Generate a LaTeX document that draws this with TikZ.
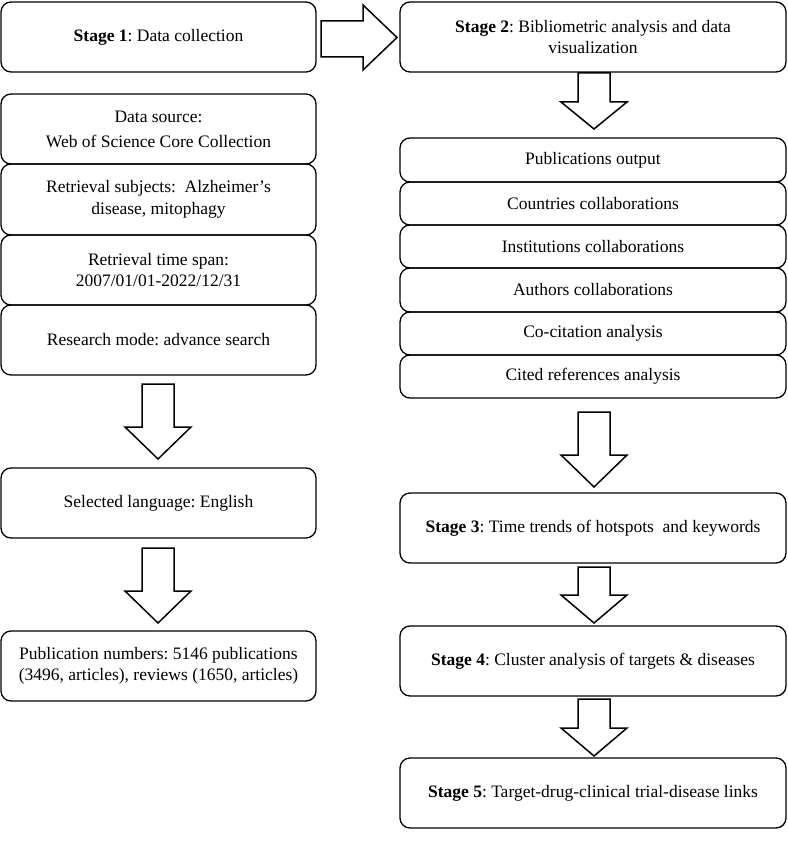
\documentclass[tikz,border=0pt]{standalone}
\usepackage{fontspec}
\setmainfont{Liberation Serif}
\frenchspacing
\tikzset{
  box/.style={draw, line width=1.3pt, rounded corners=10pt, align=center, inner sep=0pt,
    font=\fontsize{17.5}{21.5}\selectfont},
  lbox/.style={box, minimum width=315pt},
  rbox/.style={box, minimum width=386pt},
  blk/.style={draw, line width=1.5pt, fill=white, line join=miter}
}
\newcommand\blockdown[4]{% cx, top, headstart, tip
  \draw[blk] (#1-16,#2) -- (#1+16,#2) -- (#1+16,#3) -- (#1+33,#3) -- (#1,#4) -- (#1-33,#3) -- (#1-16,#3) -- cycle;}
\begin{document}
\begin{tikzpicture}[x=1pt,y=-1pt]
\useasboundingbox (0,0) rectangle (787,842);
% left column
\node[lbox, minimum height=70pt] (s1) at (158.5,37) {\textbf{Stage 1}: Data collection};
\node[lbox, minimum height=70pt] (ds) at (158.5,129) {Data source:\\[3.5pt]Web of Science Core Collection};
\node[lbox, minimum height=71pt] (rs) at (158.5,199.5) {Retrieval subjects:\ \ Alzheimer’s\\disease, mitophagy};
\node[lbox, minimum height=70pt] (rt) at (158.5,270) {Retrieval time span:\\2007/01/01-2022/12/31};
\node[lbox, minimum height=70pt] (rm) at (158.5,340) {Research mode: advance search};
\node[lbox, minimum height=70pt] (sl) at (158.5,503) {Selected language: English};
\node[lbox, minimum height=70pt] (pn) at (158.5,666) {Publication numbers: 5146 publications\\(3496, articles), reviews (1650, articles)};
% right column
\node[rbox, minimum height=70pt] (s2) at (593,37) {\textbf{Stage 2}: Bibliometric analysis and data\\visualization};
\node[rbox, minimum height=44pt] (po) at (593,160) {Publications output};
\node[rbox, minimum height=43pt] (cc) at (593,203.5) {Countries collaborations};
\node[rbox, minimum height=43pt] (ic) at (593,246.5) {Institutions collaborations};
\node[rbox, minimum height=44pt] (ac) at (593,290) {Authors collaborations};
\node[rbox, minimum height=43pt] (ca) at (593,333.5) {Co-citation analysis};
\node[rbox, minimum height=43pt] (cr) at (593,376.5) {Cited references analysis};
\node[rbox, minimum height=70pt] (s3) at (593,528) {\textbf{Stage 3}: Time trends of hotspots\ \ and keywords};
\node[rbox, minimum height=70pt] (s4) at (593,661) {\textbf{Stage 4}: Cluster analysis of targets \& diseases};
\node[rbox, minimum height=70pt] (s5) at (593,793) {\textbf{Stage 5}: Target-drug-clinical trial-disease links};
% block arrows
\draw[blk] (321,21) -- (363,21) -- (363,5) -- (397,37.5) -- (363,70) -- (363,57) -- (321,57) -- cycle;
\blockdown{158}{384}{427}{459}
\blockdown{158}{548}{591}{623}
\blockdown{594}{73}{102}{129}
\blockdown{594}{412}{455}{487}
\blockdown{594}{567}{595}{623}
\blockdown{594}{699}{728}{756}
\end{tikzpicture}
\end{document}
